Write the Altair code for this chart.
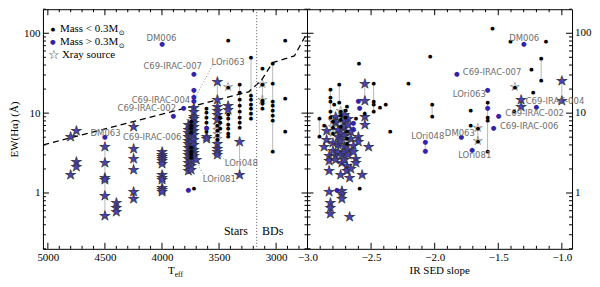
import altair as alt
import pandas as pd

# ---------------- Left panel: Teff vs EW(Halpha) ----------------
# one entry per object; objects with several EW values are joined by a grey line
L_TEFF = [4800, 4800, 4750, 4750,
          4500, 4500, 4400,
          4250, 4250, 4250,
          4000, 4000, 4000, 4000,
          3900, 3810,
          3770, 3770, 3770, 3770,
          3745, 3745, 3745, 3745,
          3720, 3720, 3720, 3720, 3720, 3720, 3720,
          3700,
          3610, 3610, 3610,
          3515, 3515, 3515, 3515, 3490,
          3420, 3420, 3420, 3420,
          3320, 3320,
          3220,
          3120, 3120, 3120,
          3030,
          2920, 2920, 2920]
L_KIND = ["hix", "hix", "hix", "hix",
          "hi", "hix", "hix",
          "hix", "hix", "hix",
          "hi", "hix", "hix", "hix",
          "hi", "hi",
          "hix", "hix", "hix", "hi",
          "lox", "hix", "lox", "hix",
          "hi", "hi", "hix", "hix", "hix", "hix", "lo",
          "hix",
          "lo", "hi", "hix",
          "hix", "hix", "lox", "hix", "lo",
          "lo", "lox", "hix", "lo",
          "lo", "hix",
          "lo",
          "lo", "lox", "lo",
          "lo",
          "lo", "lo", "lo"]
L_EW = [[5.0], [1.68], [6.0], [2.46, 2.14],
        [5.0], [3.8, 2.4, 1.55, 1.45, 0.92, 0.51], [0.74, 0.64, 0.57],
        [6.7], [3.6, 2.7, 1.93], [1.03, 0.83],
        [74], [3.3, 3.0, 2.83, 2.67, 2.52, 2.3], [1.68, 1.52, 1.45], [1.16, 1.09, 1.03],
        [9.1], [11.6],
        [7.0, 6.2, 5.6, 5.0], [4.5, 4.1, 3.7, 3.3], [3.0, 2.7, 2.4, 2.1, 1.9], [1.1],
        [8.0, 7.2, 6.5, 5.8], [5.2, 4.7, 4.2], [3.8, 3.4, 3.1, 2.8], [2.5, 2.2, 1.95],
        [31], [19.4, 16.0, 14.0], [11.6, 10.2, 9.0], [8.4, 7.6, 6.8, 6.0], [5.3, 4.6, 4.0], [3.5, 3.2, 2.9], [1.17],
        [2.58],
        [11.6, 10.2, 8.9, 7.7, 6.8, 5.9], [6.6], [5.0, 4.7],
        [24.4, 14.4], [12.0, 10.7, 9.4, 8.2], [7.1, 6.2, 5.4, 4.7], [4.1, 3.6, 3.3, 3.0], [9.0, 7.8, 6.6],
        [82.7], [21.0], [12.3, 11.1], [9.8, 8.6, 7.4, 6.5, 5.6, 5.1],
        [23, 18.5, 15, 12.5, 10.5, 9.0, 7.8, 6.8], [4.4, 1.68],
        [50.6, 17, 15, 13, 11.5, 10, 8.6],
        [36.5], [22.9, 14.8], [13.4, 11.6],
        [43, 24, 14, 12.5, 11, 9.5, 8.2, 3.4],
        [82.7], [15.3], [5.9]]

# saturation criterion (dashed) and star/BD boundary (dotted)
DASH_TEFF = [5040, 3240, 3130, 3030, 2840, 2730]
DASH_EW = [4.0, 18.5, 25.6, 43, 52, 100]
BOUNDARY_TEFF = [3170]

L_LABEL_TEXT = ["DM006", "C69-IRAC-007", "C69-IRAC-004", "C69-IRAC-002", "C69-IRAC-006",
                "DM063", "LOri063", "LOri048", "LOri081"]
L_LABEL_TEFF = [4004, 3906, 4009, 4133, 4086, 4494, 3421, 3305, 3498]
L_LABEL_EW = [87, 38.6, 14.4, 11.6, 5.0, 5.7, 44, 2.39, 1.5]
REGION_TEXT = ["Stars", "BDs"]
REGION_TEFF = [3352, 3030]
REGION_EW = [0.33, 0.33]

LEADER_T1 = [3558, 3438, 3627]
LEADER_EW1 = [39.6, 2.47, 1.63]
LEADER_T2 = [3712, 3498, 3704]
LEADER_EW2 = [15.3, 3.1, 2.5]

# ---------------- Right panel: IR SED slope vs EW(Halpha) ----------------
R_SLOPE = [-1.545, -1.405, -1.30, -1.125, -1.163, -1.24, -1.825, -1.37, -1.226, -1.0,
           -1.32, -1.20, -1.498, -1.584, -1.584, -1.584, -1.716, -1.374, -1.537, -1.66,
           -1.716, -1.79, -1.705, -2.035, -2.595, -2.206, -2.02, -2.35, -2.074, -2.48,
           -2.55, -2.43, -2.385, -2.907, -2.868, -2.82, -2.79, -2.75, -2.74, -2.69,
           -2.60, -2.59, -2.55, -2.87, -2.85, -2.83, -2.83, -2.82, -2.80, -2.80,
           -2.78, -2.78, -2.77, -2.76, -2.74, -2.74, -2.74, -2.73, -2.73, -2.71,
           -2.71, -2.70, -2.69, -2.69, -2.68, -2.68, -2.67, -2.67, -2.66, -2.66,
           -2.64, -2.64, -2.62, -2.62, -2.60, -2.57, -2.59, -2.52, -2.55]
R_KIND = ["lo", "lo", "hi", "lo", "lo", "lo", "hi", "lox", "lo", "hix",
          "hix", "hi", "hi", "hi", "hi", "lo", "lo", "lo", "hi", "lox",
          "lo", "hi", "hi", "lo", "lo", "lo", "lo", "lo", "hi", "lo",
          "hix", "lo", "lo", "lo", "lo", "lo", "lo", "lo", "lo", "lo",
          "hi", "hi", "lo", "hix", "hix", "hix", "hix", "hix", "lox", "hix",
          "hix", "hix", "hi", "hix", "lox", "hix", "hix", "hix", "hix", "hix",
          "hix", "lo", "lox", "hix", "hix", "hix", "hix", "hix", "hix", "hix",
          "hi", "hix", "lo", "hix", "hix", "hix", "lo", "hix", "hix"]
R_EW = [[115], [80], [74], [80], [49, 26], [35.5], [31], [21], [18.4], [25.6, 14.1],
        [14.4, 12.0], [12], [9.1], [19.5], [11.6], [13.7, 8.9, 8.2, 3.4], [11], [10.7], [6.5], [6.5, 4.5],
        [7.1], [5.0], [3.5], [52], [43], [23.6], [13, 9.1], [6.0], [4.3, 3.4], [23.6, 14.1, 13, 10.7],
        [23, 14.1], [12], [13], [8.6, 5.2], [7.1], [20, 15.7, 14.1, 10.7, 8.9], [13], [22.9, 13.7], [9.35], [12.3],
        [14.1], [11.6], [10], [3.8], [6.0, 4.6], [2.9, 2.5, 1.9], [1.03], [0.76, 0.64, 0.55], [8.0, 6.8, 5.6], [4.2, 3.4],
        [9.0, 7.5], [2.9, 2.6], [1.1], [6.2, 5.0, 4.0, 3.3], [10.5, 8.4, 7.0], [5.5, 4.5], [1.68], [3.0, 2.4], [1.06, 0.98, 0.85], [9.5, 7.8, 6.5, 5.2],
        [3.8, 3.2, 2.6], [11, 9], [6.0, 4.9, 4.2], [2.2, 1.9], [8.5, 7.2], [3.5, 3.0], [0.5], [1.52], [5.8, 4.7], [2.0],
        [7.5, 6.4], [3.9, 3.3], [8.8], [2.7, 2.4], [5.0, 4.3], [1.68], [1.17], [3.8], [9.0, 7.0]]

R_LABEL_TEXT = ["DM006", "C69-IRAC-007", "LOri063", "C69-IRAC-004", "C69-IRAC-002",
                "C69-IRAC-006", "DM063", "LOri048", "LOri081"]
R_LABEL_SLOPE = [-1.296, -1.549, -1.728, -1.054, -1.214, -1.257, -1.802, -2.054, -1.685]
R_LABEL_EW = [87, 32.7, 17.5, 14.1, 9.9, 6.9, 5.7, 5.1, 3.0]

# axis ticks
TEFF_MAJOR = [5000, 4500, 4000, 3500, 3000]
TEFF_MINOR = [t for t in range(2800, 5001, 100) if t % 500 != 0]
SLOPE_MAJOR = [-3.0, -2.5, -2.0, -1.5, -1.0]
SLOPE_MINOR = [round(-3.0 + 0.1 * i, 1) for i in range(21) if i % 5 != 0]
EW_MAJOR = [1, 10, 100]
EW_MINOR = ([round(0.1 * k, 1) for k in range(2, 10)] + list(range(2, 10))
            + list(range(20, 100, 10)) + [200])

# panel extents (the two panels share one frame, side by side)
TEFF_HI, TEFF_SPAN = 5043.0, 2318.0     # left panel: 5043 K .. 2725 K
SLOPE_LO, SLOPE_SPAN = -3.0, 2.08       # right panel: -3.0 .. -0.92

# ---------------- styling ----------------
W, H = 530, 240
BLUE = "#3322aa"
GREY_LINE = "#b8b8b8"
LABEL_GREY = "#6e6e6e"
SERIF = "Liberation Serif"
SANS = "DejaVu Sans"
MAJ, MIN = 6, 3

U_EXPR = (f"datum.panel == 'L' ? ({TEFF_HI} - datum.v) / {TEFF_SPAN}"
          f" : 1 + (datum.v - ({SLOPE_LO})) / {SLOPE_SPAN}")
XS = alt.Scale(domain=[0, 2], nice=False, zero=False)
YS = alt.Scale(type="log", domain=[0.2, 200], nice=False)


def explode(panel, xs, kinds, ews, prefix):
    rows = []
    for i, (x, k, es) in enumerate(zip(xs, kinds, ews)):
        for e in es:
            rows.append({"panel": panel, "v": float(x), "ew": float(e),
                         "obj": f"{prefix}{i}", "kind": k})
    return rows


def rules_from(rows):
    groups = {}
    for r in rows:
        groups.setdefault(r["obj"], []).append(r)
    out = []
    for g in groups.values():
        if len(g) > 1:
            ews = [r["ew"] for r in g]
            out.append({"panel": g[0]["panel"], "v": g[0]["v"], "lo": min(ews), "hi": max(ews)})
    return pd.DataFrame(out)


def with_u(chart, vfield="v", ufield="u"):
    expr = U_EXPR.replace("datum.v", f"datum.{vfield}")
    return chart.transform_calculate(**{ufield: expr})


def vtext(txt, x, y, size=11, font=SERIF, align="left", color="black"):
    return alt.Chart(pd.DataFrame({"t": [txt]})).mark_text(
        font=font, fontSize=size, align=align, baseline="middle", color=color).encode(
        x=alt.value(x), y=alt.value(y), text="t:N")


def glyph_layer(df, glyph, size, color, stroke=None):
    kw = dict(font=SANS, fontSize=size, align="center", baseline="middle", color=color)
    if stroke is not None:
        kw.update(stroke=stroke, strokeWidth=0.6)
    return with_u(alt.Chart(df)).mark_text(**kw).encode(
        x=alt.X("u:Q", scale=XS), y=alt.Y("ew:Q", scale=YS), text=alt.value(glyph))


rows = explode("L", L_TEFF, L_KIND, L_EW, "l") + explode("R", R_SLOPE, R_KIND, R_EW, "r")
rules = rules_from(rows)
pts_lo = pd.DataFrame([r for r in rows if r["kind"] == "lo"])
pts_hi = pd.DataFrame([r for r in rows if r["kind"] == "hi"])
pts_hix = pd.DataFrame([r for r in rows if r["kind"] == "hix"])
pts_lox = pd.DataFrame([r for r in rows if r["kind"] == "lox"])

x_lab_axis = alt.Axis(
    values=[(TEFF_HI - t) / TEFF_SPAN for t in TEFF_MAJOR]
    + [1 + (s - SLOPE_LO) / SLOPE_SPAN for s in SLOPE_MAJOR],
    labelExpr=(f"datum.value < 0.99 ? format({TEFF_HI} - datum.value * {TEFF_SPAN}, 'd')"
               f" : format({SLOPE_LO} + (datum.value - 1) * {SLOPE_SPAN}, '.1f')"),
    ticks=False, domain=False, grid=False, labelPadding=3, labelFont=SERIF,
    labelFontSize=11, labelColor="black", labelFlush=False, labelOverlap=False, title=None)
y_lab_axis = alt.Axis(
    values=EW_MAJOR, format="d", ticks=False, domain=False, grid=False, labelPadding=3,
    labelFont=SERIF, labelFontSize=11, labelColor="black", title="EW(Hα) (Å)",
    titleFont=SERIF, titleFontSize=11, titleFontWeight="normal", titlePadding=4,
    titleColor="black")

lay_rules = with_u(alt.Chart(rules)).mark_rule(color=GREY_LINE, strokeWidth=1).encode(
    x=alt.X("u:Q", scale=XS, axis=x_lab_axis),
    y=alt.Y("lo:Q", scale=YS, axis=y_lab_axis), y2="hi:Q")

# X-ray sources: star glyphs (blue-filled for > 0.3 Msun, open with black dot for < 0.3 Msun)
lay_hix = glyph_layer(pts_hix, "★", 13, "#4b42b4", stroke="#2c2c2c")
lay_lox = glyph_layer(pts_lox, "☆", 13, "#2c2c2c")
lay_lox_dot = glyph_layer(pts_lox, "●", 5, "black")
lay_lo = glyph_layer(pts_lo, "●", 5, "black")
lay_hi = glyph_layer(pts_hi, "●", 6.5, BLUE)

dash_df = pd.DataFrame({"panel": "L", "v": DASH_TEFF, "ew": DASH_EW,
                        "i": list(range(len(DASH_TEFF)))})
lay_dash = with_u(alt.Chart(dash_df)).mark_line(
    color="black", strokeDash=[6, 4], strokeWidth=1.3).encode(
    x=alt.X("u:Q", scale=XS), y=alt.Y("ew:Q", scale=YS), order="i:Q")

bound_df = pd.DataFrame({"panel": "L", "v": BOUNDARY_TEFF})
lay_bound = with_u(alt.Chart(bound_df)).mark_rule(
    color="#555555", strokeDash=[1, 2], strokeWidth=1).encode(x=alt.X("u:Q", scale=XS))

divider_df = pd.DataFrame({"panel": "R", "v": [SLOPE_LO]})
lay_divider = with_u(alt.Chart(divider_df)).mark_rule(color="black", strokeWidth=1).encode(
    x=alt.X("u:Q", scale=XS))

lead_df = pd.DataFrame({"panel": "L", "v1": LEADER_T1, "e1": LEADER_EW1,
                        "v2": LEADER_T2, "e2": LEADER_EW2})
lay_lead = with_u(with_u(alt.Chart(lead_df), "v1", "u1"), "v2", "u2").mark_rule(
    color="#888888", strokeDash=[1, 2], strokeWidth=1).encode(
    x=alt.X("u1:Q", scale=XS), y=alt.Y("e1:Q", scale=YS), x2="u2:Q", y2="e2:Q")

lab_df = pd.DataFrame({"panel": ["L"] * len(L_LABEL_TEXT) + ["R"] * len(R_LABEL_TEXT),
                       "v": L_LABEL_TEFF + R_LABEL_SLOPE, "ew": L_LABEL_EW + R_LABEL_EW,
                       "t": L_LABEL_TEXT + R_LABEL_TEXT})
lay_names = with_u(alt.Chart(lab_df)).mark_text(
    font=SANS, fontSize=8.5, color=LABEL_GREY, align="center", baseline="middle").encode(
    x=alt.X("u:Q", scale=XS), y=alt.Y("ew:Q", scale=YS), text="t:N")

reg_df = pd.DataFrame({"panel": "L", "v": REGION_TEFF, "ew": REGION_EW, "t": REGION_TEXT})
lay_region = with_u(alt.Chart(reg_df)).mark_text(
    font=SERIF, fontSize=12, color="black", align="center", baseline="middle").encode(
    x=alt.X("u:Q", scale=XS), y=alt.Y("ew:Q", scale=YS), text="t:N")

# inward ticks on every edge of both panels
xt_major = pd.DataFrame({"panel": ["L"] * len(TEFF_MAJOR) + ["R"] * len(SLOPE_MAJOR),
                         "v": TEFF_MAJOR + SLOPE_MAJOR})
xt_minor = pd.DataFrame({"panel": ["L"] * len(TEFF_MINOR) + ["R"] * len(SLOPE_MINOR),
                         "v": TEFF_MINOR + SLOPE_MINOR})
tick_layers = []
for d, ln in ((xt_major, MAJ), (xt_minor, MIN)):
    for y0, y1 in ((H, H - ln), (0, ln)):
        tick_layers.append(with_u(alt.Chart(d)).mark_rule(color="black", strokeWidth=1).encode(
            x=alt.X("u:Q", scale=XS), y=alt.value(y0), y2=alt.value(y1)))
for vals, ln in ((EW_MAJOR, MAJ), (EW_MINOR, MIN)):
    d = pd.DataFrame({"e": vals})
    for x0, x1 in ((0, ln), (W, W - ln), (W / 2 - ln, W / 2 + ln)):
        tick_layers.append(alt.Chart(d).mark_rule(color="black", strokeWidth=1).encode(
            y=alt.Y("e:Q", scale=YS), x=alt.value(x0), x2=alt.value(x1)))

# right-hand EW labels
ylab_r = alt.Chart(pd.DataFrame({"e": EW_MAJOR, "t": [str(v) for v in EW_MAJOR]})).mark_text(
    font=SERIF, fontSize=11, color="black", align="left", baseline="middle").encode(
    y=alt.Y("e:Q", scale=YS), x=alt.value(W + 3), text="t:N")

legend = [
    vtext("●", 10, 20, size=5, font=SANS, align="center"),
    vtext("●", 10, 33, size=6.5, font=SANS, align="center", color=BLUE),
    vtext("☆", 11, 45.5, size=13, font=SANS, align="center", color="#333333"),
    vtext("Mass < 0.3M", 17, 20), vtext("⊙", 76, 23.5, size=7, font=SANS),
    vtext("Mass > 0.3M", 17, 33), vtext("⊙", 76, 36.5, size=7, font=SANS),
    vtext("Xray source", 19, 45.5),
]
titles = [vtext("T", W / 4 - 4, H + 22, size=11, align="center"),
          vtext("eff", W / 4 - 0.5, H + 26, size=7.5),
          vtext("IR SED slope", 3 * W / 4, H + 22, size=11, align="center")]

chart = alt.layer(
    lay_rules, lay_dash, lay_bound, lay_divider, lay_lead, lay_hix, lay_lox, lay_lox_dot,
    lay_lo, lay_hi, lay_names, lay_region, *tick_layers, ylab_r, *legend, *titles
).properties(width=W, height=H, padding=0, background="white").configure_view(
    stroke="black", strokeWidth=1)

chart.save("out.html", embed_options={"renderer": "svg", "actions": False})
